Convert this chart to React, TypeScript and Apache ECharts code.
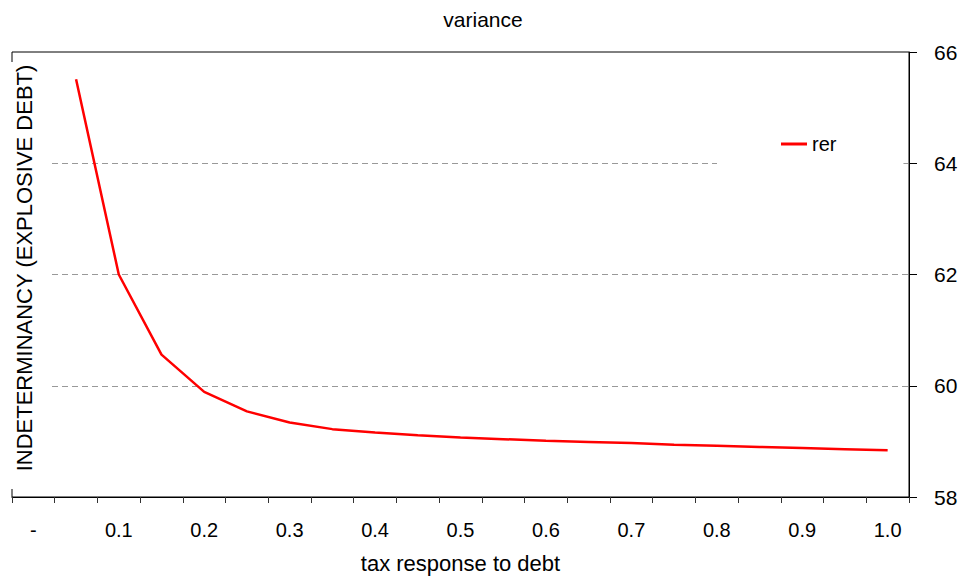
import React, { useEffect, useRef } from "react";
import * as echarts from "echarts";

const categories: string[] = [
  "-", "0.05", "0.1", "0.15", "0.2", "0.25", "0.3", "0.35", "0.4", "0.45", "0.5",
  "0.55", "0.6", "0.65", "0.7", "0.75", "0.8", "0.85", "0.9", "0.95", "1.0",
];
const rerValues: (number | null)[] = [
  null, 65.51, 62.0, 60.56, 59.89, 59.54, 59.34, 59.22, 59.16, 59.11, 59.07,
  59.04, 59.01, 58.99, 58.97, 58.94, 58.92, 58.9, 58.88, 58.86, 58.84,
];
const yMin = 58;
const yMax = 66;
const yStep = 2;
const titleText = "variance";
const xName = "tax response to debt";
const leftLabel = "INDETERMINANCY (EXPLOSIVE DEBT)";
const seriesName = "rer";

const FONT = "'Liberation Sans', Arial, sans-serif";

export default function App() {
  const ref = useRef<HTMLDivElement>(null);
  useEffect(() => {
    if (!ref.current) return;
    const chart = echarts.init(ref.current, undefined, { renderer: "svg" });
    chart.setOption({
      animation: false,
      backgroundColor: "#fff",
      textStyle: { fontFamily: FONT, color: "#000" },
      title: {
        text: titleText,
        left: "center",
        top: 4,
        textStyle: { fontSize: 21, fontWeight: "normal", color: "#000", fontFamily: FONT },
      },
      legend: {
        data: [{ name: seriesName, icon: "rect" }],
        left: 717,
        top: 112,
        padding: [22, 67, 22, 64],
        backgroundColor: "#fff",
        itemWidth: 26,
        itemHeight: 3,
        itemGap: 5,
        itemStyle: { color: "#ff0000", borderWidth: 0 },
        textStyle: { fontSize: 20, color: "#000", fontFamily: FONT },
      },
      grid: {
        left: 12,
        right: 57,
        top: 52,
        bottom: 84,
        show: true,
        borderColor: "#000",
        borderWidth: 1,
        backgroundColor: "transparent",
      },
      xAxis: {
        type: "category",
        data: categories,
        boundaryGap: true,
        name: xName,
        nameLocation: "middle",
        nameGap: 55,
        nameTextStyle: { fontSize: 22, color: "#000", fontFamily: FONT },
        axisLine: { show: true, lineStyle: { color: "#000", width: 1 } },
        axisTick: { show: true, interval: 0, length: 6, lineStyle: { color: "#333" } },
        axisLabel: { interval: 1, fontSize: 20, color: "#000", margin: 23, fontFamily: FONT },
        splitLine: { show: false },
      },
      yAxis: {
        type: "value",
        position: "right",
        min: yMin,
        max: yMax,
        interval: yStep,
        axisLine: { show: true, lineStyle: { color: "#000", width: 1 } },
        axisTick: { show: true, length: 8, lineStyle: { color: "#000" } },
        axisLabel: { fontSize: 21, color: "#000", margin: 25, fontFamily: FONT },
        splitLine: {
          show: true,
          lineStyle: {
            color: ["transparent", "#999", "#999", "#999", "transparent"],
            type: [6, 4],
            width: 1,
          },
        },
      },
      graphic: [
        {
          type: "rect",
          z: 100,
          shape: { x: 6, y: 62, width: 45, height: 427 },
          style: { fill: "#fff" },
        },
        {
          type: "text",
          z: 101,
          x: 24,
          y: 268,
          rotation: Math.PI / 2,
          style: {
            text: leftLabel,
            fontSize: 22,
            fontFamily: FONT,
            fill: "#000",
            align: "center",
            verticalAlign: "middle",
          },
        },
      ],
      series: [
        {
          name: seriesName,
          type: "line",
          data: rerValues,
          symbol: "none",
          showSymbol: false,
          connectNulls: false,
          itemStyle: { color: "#ff0000" },
          lineStyle: { color: "#ff0000", width: 2.5 },
        },
      ],
    });
    return () => chart.dispose();
  }, []);
  return (
    <div
      ref={ref}
      style={{ position: "fixed", left: 0, top: 0, width: 966, height: 581 }}
    />
  );
}
